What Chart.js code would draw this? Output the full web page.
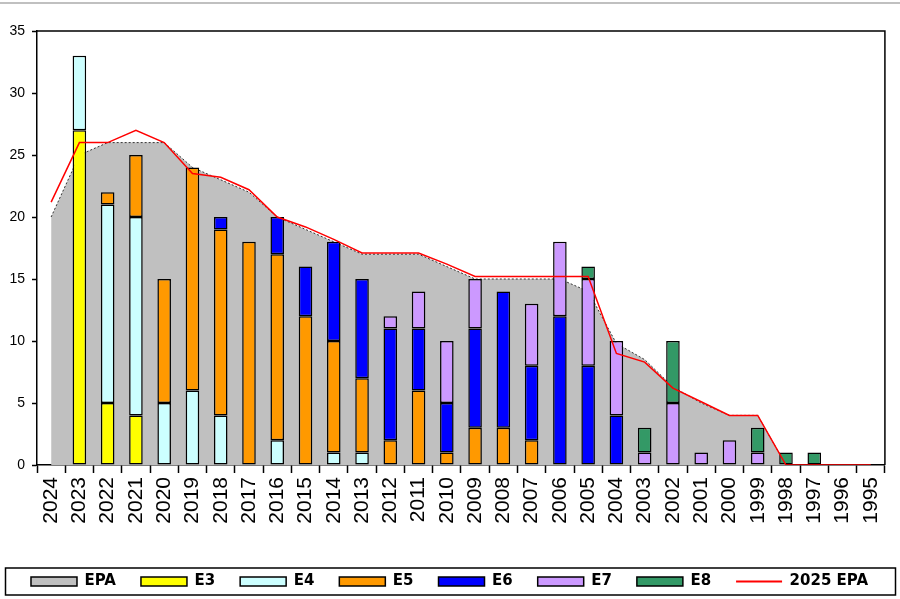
<!DOCTYPE html>
<html>
<head>
<meta charset="utf-8">
<script src="https://cdn.jsdelivr.net/npm/chart.js@4/dist/chart.umd.min.js"></script>
<style>
  body { margin: 0; background: #fff; }
  #wrap { width: 900px; height: 599px; }
</style>
</head>
<body>
<div id="wrap"><canvas id="epaChart" width="900" height="599"></canvas></div>
<script>
// categories, newest first
const years = ['2024','2023','2022','2021','2020','2019','2018','2017','2016','2015',
  '2014','2013','2012','2011','2010','2009','2008','2007','2006','2005',
  '2004','2003','2002','2001','2000','1999','1998','1997','1996','1995'];

// gray area
const epa = [20, 25, 26, 26, 26, 24, 23, 22, 20, 19,
  18, 17, 17, 17, 16, 15, 15, 15, 15, 14,
  9.8, 8.5, 6.3, 5, 4, 4, 0, null, null, null];

// red line
const epa2025 = [21.2, 26, 26, 27, 26, 23.5, 23.2, 22.2, 20, 19.2,
  18.2, 17.1, 17.1, 17.1, 16.2, 15.2, 15.2, 15.2, 15.2, 15.2,
  9, 8.3, 6.2, 5.1, 4, 4, 0, 0, 0, 0];

// stacked bars
const e3 = [null, 27, 5, 4, null, null, null, null, null, null,
  null, null, null, null, null, null, null, null, null, null,
  null, null, null, null, null, null, null, null, null, null];
const e4 = [null, 6, 16, 16, 5, 6, 4, null, 2, null,
  1, 1, null, null, null, null, null, null, null, null,
  null, null, null, null, null, null, null, null, null, null];
const e5 = [null, null, 1, 5, 10, 18, 15, 18, 15, 12,
  9, 6, 2, 6, 1, 3, 3, 2, null, null,
  null, null, null, null, null, null, null, null, null, null];
const e6 = [null, null, null, null, null, null, 1, null, 3, 4,
  8, 8, 9, 5, 4, 8, 11, 6, 12, 8,
  4, null, null, null, null, null, null, null, null, null];
const e7 = [null, null, null, null, null, null, null, null, null, null,
  null, null, 1, 3, 5, 4, null, 5, 6, 7,
  6, 1, 5, 1, 2, 1, null, null, null, null];
const e8 = [null, null, null, null, null, null, null, null, null, null,
  null, null, null, null, null, null, null, null, null, 1,
  null, 2, 5, null, null, 2, 1, 1, null, null];

Chart.defaults.font.family = '"Liberation Sans", Arial, sans-serif';
Chart.defaults.color = '#000';

function barSet(label, values, color) {
  return {
    type: 'bar',
    label: label,
    data: values,
    backgroundColor: color,
    borderColor: '#000',
    borderWidth: 1.5,
    borderSkipped: false,
    categoryPercentage: 1,
    barPercentage: 0.48,
    order: 2
  };
}

// plot frame, legend box and the thin gray line at the top
const framePlugin = {
  id: 'frame',
  afterDraw: function(chart) {
    const c = chart.ctx;
    const a = chart.chartArea;
    c.save();
    c.strokeStyle = '#000';
    c.lineWidth = 1.5;
    c.beginPath();
    c.moveTo(a.left, a.top);
    c.lineTo(a.right, a.top);
    c.lineTo(a.right, a.bottom);
    c.stroke();

    const hb = chart.legend.legendHitBoxes[0];
    const mid = hb.top + hb.height / 2;
    c.strokeRect(5.5, mid - 13.5, chart.width - 10, 27);

    c.strokeStyle = '#c0c0c0';
    c.lineWidth = 2;
    c.beginPath();
    c.moveTo(0, 3);
    c.lineTo(chart.width, 3);
    c.stroke();
    c.restore();
  }
};

const data = {
  labels: years,
  datasets: [
    {
      type: 'line',
      label: 'EPA',
      data: epa,
      backgroundColor: '#c0c0c0',
      borderColor: '#333',
      borderWidth: 1,
      borderDash: [2, 2],
      pointRadius: 0,
      fill: 'origin',
      tension: 0,
      stack: 'epa',
      order: 3
    },
    barSet('E3', e3, '#ffff00'),
    barSet('E4', e4, '#ccffff'),
    barSet('E5', e5, '#ff9900'),
    barSet('E6', e6, '#0000ff'),
    barSet('E7', e7, '#cc99ff'),
    barSet('E8', e8, '#339966'),
    {
      type: 'line',
      label: '2025 EPA',
      data: epa2025,
      borderColor: '#ff0000',
      borderWidth: 1.5,
      pointRadius: 0,
      fill: false,
      tension: 0,
      stack: 'epa2025',
      order: 1
    }
  ]
};

const config = {
  type: 'bar',
  data: data,
  options: {
    responsive: false,
    animation: false,
    layout: {
      padding: { top: 31, right: 1, left: 0, bottom: 0 }
    },
    plugins: {
      tooltip: { enabled: false },
      legend: {
        position: 'bottom',
        labels: {
          usePointStyle: true,
          pointStyleWidth: 46,
          boxWidth: 46,
          boxHeight: 9,
          padding: 25,
          color: '#000',
          font: { family: '"DejaVu Sans", sans-serif', weight: 'bold', size: 15 },
          sort: function(a, b) { return a.datasetIndex - b.datasetIndex; },
          generateLabels: function(chart) {
            const items = Chart.defaults.plugins.legend.labels.generateLabels(chart);
            items.forEach(function(it) {
              it.lineDash = [];
              if (chart.data.datasets[it.datasetIndex].label === '2025 EPA') {
                it.pointStyle = 'line';
                it.strokeStyle = '#ff0000';
                it.lineWidth = 2;
              } else {
                it.pointStyle = 'rect';
                it.strokeStyle = '#000';
                it.lineWidth = 1.5;
              }
            });
            return items;
          }
        }
      }
    },
    scales: {
      x: {
        stacked: true,
        border: { color: '#000', width: 1.5 },
        grid: { offset: true, drawOnChartArea: false, tickLength: 8, tickColor: '#000', tickWidth: 1.5 },
        ticks: {
          autoSkip: false,
          minRotation: 90,
          maxRotation: 90,
          padding: 4,
          font: { size: 21 }
        },
        afterFit: function(s) { s.height = 84; }
      },
      y: {
        stacked: true,
        min: 0,
        max: 35,
        border: { color: '#000', width: 1.5 },
        grid: { drawOnChartArea: false, tickLength: 5, tickColor: '#000', tickWidth: 1.5 },
        ticks: { stepSize: 5, padding: 7, font: { size: 14 } },
        afterFit: function(s) { s.width = 37; }
      }
    }
  },
  plugins: [framePlugin]
};

const myChart = new Chart(document.getElementById('epaChart'), config);
</script>
</body>
</html>
